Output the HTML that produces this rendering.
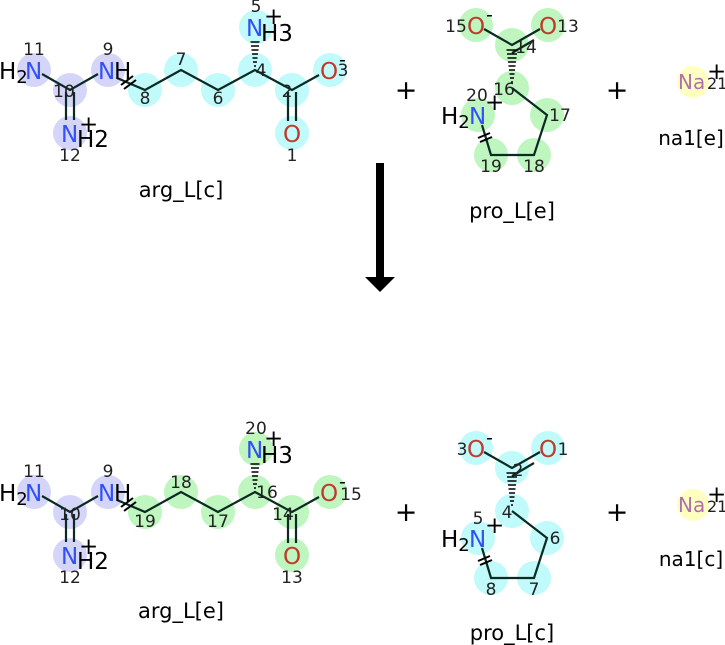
<!DOCTYPE html>
<html><head><meta charset="utf-8"><style>
html,body{margin:0;padding:0;background:#fff;}
svg{display:block;}
</style></head><body>
<svg width="725" height="645" viewBox="0 0 725 645" font-family="DejaVu Sans, Liberation Sans, sans-serif">
<defs>
<g id="argbonds">
<path stroke="#0a2a22" stroke-width="2.2" fill="none" d="M42,74 L70,90 L98,74 M117,78 L145,90 L181,70 L218,90 L255,70 L292,90 L319,75 M66,92 L66,120 M74,92 L74,120 M288,92 L288,121 M296,92 L296,121"/>
<path stroke="#000" stroke-width="2" d="M121,85 L133,76 M124,89 L136,80"/>
<path stroke="#000" stroke-width="1.6" d="M254,66 h2 M253,62 h4 M252.5,58 h5 M252,54 h6 M251.5,50 h7 M251,46 h8 M250.5,42 h9"/>
</g>
<g id="probonds">
<path stroke="#0a2a22" stroke-width="2.2" fill="none" d="M484,29 L512,45 L540,29 M512,53 L534,40 M512,88 L547,115 L534,155 L491,155 L482,125"/>
<path stroke="#000" stroke-width="1.6" d="M511,82 h2 M510,78 h4 M509.5,74 h5 M509,70 h6 M508.5,66 h7 M508,62 h8 M507.5,58 h9 M507,54 h10 M506.5,50 h11"/>
<path stroke="#000" stroke-width="2" d="M478,138 L490,133 M480,142 L492,137"/>
</g>
<g id="argtext">
<text x="-1" y="79" font-size="23" fill="#000">H<tspan font-size="18" dy="4">2</tspan></text><text x="25" y="79" font-size="23" fill="#3050f8">N</text>
<text x="98" y="79" font-size="23" fill="#3050f8">N</text><text x="114" y="79" font-size="23" fill="#000">H</text>
<text x="61" y="142" font-size="23" fill="#3050f8">N</text><text x="77" y="147" font-size="23" fill="#000">H2</text><text x="79" y="132" font-size="23" fill="#000">+</text>
<text x="246" y="36" font-size="23" fill="#3050f8">N</text><text x="261" y="41" font-size="23" fill="#000">H3</text><text x="264" y="24" font-size="23" fill="#000">+</text>
<text x="320" y="79" font-size="23" fill="#c0392b">O</text><text x="339" y="66" font-size="19" fill="#000">-</text>
<text x="283" y="142" font-size="23" fill="#c0392b">O</text>
</g>
<g id="protext">
<text x="467" y="34" font-size="23" fill="#c0392b">O</text><text x="486" y="21" font-size="19" fill="#000">-</text>
<text x="539" y="34" font-size="23" fill="#c0392b">O</text>
<text x="441" y="124" font-size="23" fill="#000">H<tspan font-size="18" dy="4">2</tspan></text><text x="469" y="124" font-size="23" fill="#3050f8">N</text><text x="485" y="110" font-size="23" fill="#000">+</text>
</g>
</defs>

<!-- TOP arg_L[c] -->
<g fill="#d5d5fa"><circle cx="34" cy="70" r="17"/><circle cx="70" cy="90" r="17"/><circle cx="108" cy="70" r="17"/><circle cx="70" cy="133" r="17"/></g>
<g fill="#c0fafa"><circle cx="145" cy="90" r="17"/><circle cx="181" cy="70" r="17"/><circle cx="218" cy="90" r="17"/><circle cx="255" cy="70" r="17"/><circle cx="292" cy="90" r="17"/><circle cx="330" cy="70" r="17"/><circle cx="292" cy="133" r="17"/><circle cx="256" cy="27" r="17"/></g>
<use href="#argbonds"/>
<use href="#argtext"/>
<g font-size="17" fill="#222" text-anchor="middle">
<text x="34" y="55">11</text><text x="108" y="55">9</text><text x="64" y="97">10</text><text x="70" y="161">12</text>
<text x="145" y="104">8</text><text x="181" y="65">7</text><text x="261" y="76">4</text>
<text x="218" y="104">6</text><text x="287" y="97">2</text><text x="343" y="76">3</text><text x="292" y="161">1</text><text x="256" y="12">5</text>
</g>
<text x="181" y="197" font-size="21" fill="#000" text-anchor="middle">arg_L[c]</text>

<text x="406" y="99" font-size="27" fill="#000" text-anchor="middle">+</text>

<!-- TOP pro_L[e] -->
<g fill="#bff5bf"><circle cx="476" cy="25" r="17"/><circle cx="548" cy="25" r="17"/><circle cx="512" cy="45" r="17"/><circle cx="512" cy="88" r="17"/><circle cx="547" cy="115" r="17"/><circle cx="534" cy="155" r="17"/><circle cx="491" cy="155" r="17"/><circle cx="478" cy="115" r="17"/></g>
<use href="#probonds"/>
<use href="#protext"/>
<g font-size="17" fill="#222" text-anchor="middle">
<text x="456" y="32">15</text><text x="568" y="32">13</text><text x="526" y="53">14</text><text x="504" y="95">16</text>
<text x="477" y="101">20</text><text x="560" y="121">17</text><text x="534" y="172">18</text><text x="491" y="172">19</text>
</g>
<text x="512" y="218" font-size="21" fill="#000" text-anchor="middle">pro_L[e]</text>

<text x="617" y="99" font-size="27" fill="#000" text-anchor="middle">+</text>

<circle cx="693" cy="82" r="16" fill="#ffffc0"/>
<text x="678" y="89" fill="#b070b0" font-size="20">Na</text>
<text x="707" y="89" font-size="16" fill="#222">21</text><text x="707" y="79" font-size="23" fill="#000">+</text>
<text x="691" y="145" font-size="20" fill="#000" text-anchor="middle">na1[e]</text>

<!-- arrow -->
<rect x="376" y="163" width="8" height="115" fill="#000"/>
<polygon points="365,277 395,277 380,292" fill="#000"/>

<!-- BOTTOM arg_L[e] -->
<g transform="translate(0,422)">
<g fill="#d5d5fa"><circle cx="34" cy="70" r="17"/><circle cx="70" cy="90" r="17"/><circle cx="108" cy="70" r="17"/><circle cx="70" cy="133" r="17"/></g>
<g fill="#bff5bf"><circle cx="145" cy="90" r="17"/><circle cx="181" cy="70" r="17"/><circle cx="218" cy="90" r="17"/><circle cx="255" cy="70" r="17"/><circle cx="292" cy="90" r="17"/><circle cx="330" cy="70" r="17"/><circle cx="292" cy="133" r="17"/><circle cx="256" cy="27" r="17"/></g>
<use href="#argbonds"/>
<use href="#argtext"/>
<g font-size="17" fill="#222" text-anchor="middle">
<text x="34" y="55">11</text><text x="108" y="55">9</text><text x="70" y="98">10</text><text x="70" y="161">12</text>
<text x="145" y="105">19</text><text x="181" y="66">18</text><text x="218" y="105">17</text><text x="267" y="76">16</text>
<text x="283" y="98">14</text><text x="351" y="78">15</text><text x="292" y="161">13</text><text x="256" y="12">20</text>
</g>
<text x="181" y="196" font-size="21" fill="#000" text-anchor="middle">arg_L[e]</text>
</g>

<text x="406" y="521" font-size="27" fill="#000" text-anchor="middle">+</text>

<!-- BOTTOM pro_L[c] -->
<g transform="translate(0,423)">
<g fill="#c0fafa"><circle cx="476" cy="25" r="17"/><circle cx="548" cy="25" r="17"/><circle cx="512" cy="45" r="17"/><circle cx="512" cy="88" r="17"/><circle cx="547" cy="115" r="17"/><circle cx="534" cy="155" r="17"/><circle cx="491" cy="155" r="17"/><circle cx="478" cy="115" r="17"/></g>
<use href="#probonds"/>
<use href="#protext"/>
<g font-size="17" fill="#222" text-anchor="middle">
<text x="462" y="32">3</text><text x="563" y="32">1</text><text x="518" y="53">2</text><text x="507" y="95">4</text>
<text x="478" y="101">5</text><text x="555" y="121">6</text><text x="534" y="172">7</text><text x="491" y="172">8</text>
</g>
<text x="512" y="217" font-size="21" fill="#000" text-anchor="middle">pro_L[c]</text>
</g>

<text x="617" y="521" font-size="27" fill="#000" text-anchor="middle">+</text>

<circle cx="693" cy="505" r="16" fill="#ffffc0"/>
<text x="678" y="512" fill="#b070b0" font-size="20">Na</text>
<text x="707" y="512" font-size="16" fill="#222">21</text><text x="707" y="502" font-size="23" fill="#000">+</text>
<text x="691" y="566" font-size="20" fill="#000" text-anchor="middle">na1[c]</text>
</svg>
</body></html>
